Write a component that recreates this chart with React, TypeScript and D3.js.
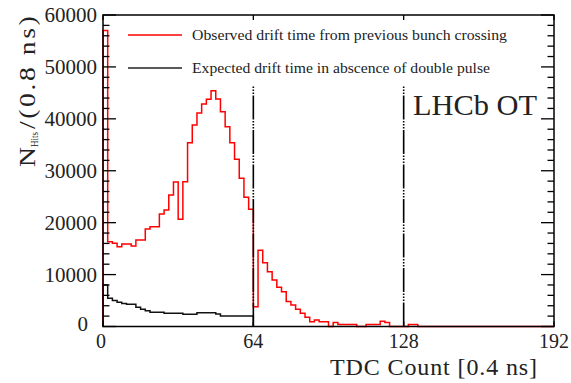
import React from "react";
import * as d3 from "d3";

// Bin width of both histograms in TDC counts (0.8 ns per bin)
const BIN_WIDTH = 2;

// Observed drift time from previous bunch crossing (hits per bin)
const observed: number[] = [
  57000, 16330, 16020, 15370, 15890, 15890, 15500, 16660, 16660, 18780,
  19220, 19220, 21670, 22440, 25330, 27830, 20650, 27890, 35400, 38810,
  41120, 42850, 43760, 45420, 43820, 41370, 38480, 35400, 32200, 28540,
  24880, 22570, 3800, 14700, 12300, 10550, 8950, 7550, 6700, 4800,
  4150, 3300, 2550, 1770, 900, 1250, 900, 900, 0, 750,
  400, 400, 400, 400, 0, 0, 400, 400, 400, 1000,
  750, 0, 0, 0, 0, 400, 400, 0, 0, 0,
  0, 0, 0, 0, 0, 0, 0, 0, 0, 0,
  0, 0, 0, 0, 0, 0, 0, 0, 0, 0,
  0, 0, 0, 0, 0, 0,
];

// Expected drift time in absence of double pulse (hits per bin, 0..64)
const expected: number[] = [
  8000, 5430, 5000, 4650, 4450, 4300, 4300, 3700, 3300, 3050,
  2750, 2750, 2750, 2550, 2550, 2550, 2550, 2350, 2350, 2350,
  2650, 2650, 2650, 2650, 2400, 2000, 2000, 2000, 2000, 2000,
  2000, 2000,
];

const xTicks: number[] = [0, 64, 128, 192];
const yMajorTicks: number[] = [0, 10000, 20000, 30000, 40000, 50000, 60000];
const markerLines: number[] = [64, 128];

const legendEntries = [
  { label: "Observed drift time from previous bunch crossing", color: "#ff0000", width: 315 },
  { label: "Expected drift time in abscence of double pulse", color: "#222222", width: 298 },
];

const FONT = '"Liberation Serif", "Times New Roman", Times, serif';
const serif: React.CSSProperties = { fontFamily: FONT, fontWeight: 400 };
const INK = "#222";

export default function App() {
  const W = 571;
  const H = 383;
  const left = 103;
  const right = 554;
  const top = 15;
  const bottom = 326.5;

  const x = d3.scaleLinear().domain([0, 192]).range([left, right]);
  const y = d3.scaleLinear().domain([0, 60000]).range([bottom, top]);

  const histPath = (vals: number[]) => {
    const n = vals.length;
    const pts: [number, number][] = [[0, 0]];
    vals.forEach((v, i) => pts.push([i * BIN_WIDTH, v]));
    pts.push([n * BIN_WIDTH, vals[n - 1]]);
    pts.push([n * BIN_WIDTH, 0]);
    return (
      d3
        .line<[number, number]>()
        .x((d) => x(d[0]))
        .y((d) => y(d[1]))
        .curve(d3.curveStepAfter)(pts) || ""
    );
  };

  const yAllTicks = d3.range(0, 60001, 2000);

  return (
    <svg
      width={W}
      height={H}
      style={{ position: "absolute", left: 0, top: 0, background: "#fff", ...serif }}
    >
      <rect x={0} y={0} width={W} height={H} fill="#fff" />

      {/* histograms */}
      <path d={histPath(expected)} fill="none" stroke="#111" strokeWidth={1.5} />
      <path d={histPath(observed)} fill="none" stroke="#ff0000" strokeWidth={1.5} />

      {/* dash-dotted marker lines */}
      {markerLines.map((m) => (
        <line
          key={m}
          x1={x(m)}
          x2={x(m)}
          y1={85}
          y2={bottom}
          stroke="#000"
          strokeWidth={1.6}
          strokeDasharray="24,1.5,1.5,1.5,1.5,1.5,1.5,1.5"
          strokeDashoffset={24}
        />
      ))}

      {/* frame */}
      <rect
        x={left}
        y={top}
        width={right - left}
        height={bottom - top}
        fill="none"
        stroke="#000"
        strokeWidth={1.5}
      />

      {/* y ticks on both sides */}
      {yAllTicks.map((t) => {
        const major = t % 10000 === 0;
        const len = major ? 13 : 6.5;
        return (
          <g key={t}>
            <line x1={left} x2={left + len} y1={y(t)} y2={y(t)} stroke="#000" strokeWidth={1.3} />
            <line x1={right} x2={right - len} y1={y(t)} y2={y(t)} stroke="#000" strokeWidth={1.3} />
          </g>
        );
      })}

      {/* x ticks on both sides */}
      {xTicks.map((t) => (
        <g key={t}>
          <line x1={x(t)} x2={x(t)} y1={bottom} y2={bottom - 5} stroke="#000" strokeWidth={1.3} />
          <line x1={x(t)} x2={x(t)} y1={top} y2={top + 5} stroke="#000" strokeWidth={1.3} />
        </g>
      ))}

      {/* y tick labels */}
      {yMajorTicks.map((t) => (
        <text
          key={t}
          x={t === 0 ? 88 : 97}
          y={t === 0 ? y(t) + 4 : y(t) + 7}
          textAnchor="end"
          fontSize={21}
          fill={INK}
          style={serif}
        >
          {t}
        </text>
      ))}

      {/* x tick labels */}
      {xTicks.map((t) => (
        <text
          key={t}
          x={t === 0 ? x(t) - 2 : x(t)}
          y={348}
          textAnchor="middle"
          fontSize={20}
          fill={INK}
          style={serif}
        >
          {t}
        </text>
      ))}

      {/* axis titles */}
      <text
        x={537}
        y={375}
        textAnchor="end"
        fontSize={24}
        fill={INK}
        style={serif}
        textLength={207}
        lengthAdjust="spacing"
      >
        TDC Count [0.4 ns]
      </text>

      <g transform="translate(35,167) rotate(-90)" fill={INK} style={serif}>
        <text x={0} y={0} fontSize={23} textLength={20} lengthAdjust="spacingAndGlyphs">
          N
        </text>
        <text x={20} y={3} fontSize={11} textLength={15} lengthAdjust="spacingAndGlyphs">
          Hits
        </text>
        <text
          transform="translate(38,0) scale(1.2,1)"
          fontSize={23}
          textLength={94}
          lengthAdjust="spacing"
        >
          /(0.8 ns)
        </text>
      </g>

      {/* legend */}
      {legendEntries.map((e, i) => {
        const ly = 35 + i * 33;
        return (
          <g key={e.label}>
            <line x1={128} x2={182} y1={ly} y2={ly} stroke={e.color} strokeWidth={1.5} />
            <text
              x={192}
              y={ly + 5}
              fontSize={15.5}
              fill={INK}
              style={serif}
              textLength={e.width}
              lengthAdjust="spacingAndGlyphs"
            >
              {e.label}
            </text>
          </g>
        );
      })}

      {/* experiment label */}
      <text
        x={413}
        y={115}
        fontSize={30}
        fill={INK}
        style={serif}
        textLength={124}
        lengthAdjust="spacingAndGlyphs"
      >
        LHCb OT
      </text>
    </svg>
  );
}
